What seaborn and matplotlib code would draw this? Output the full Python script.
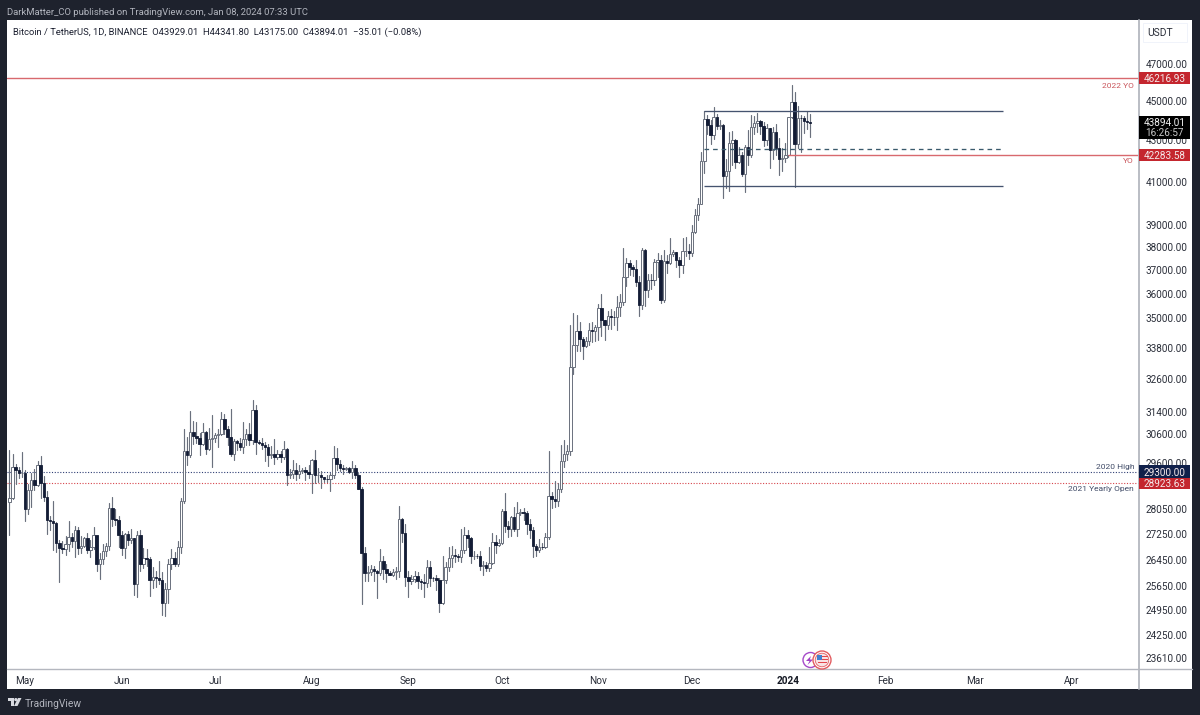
import matplotlib
matplotlib.use("Agg")
import matplotlib.pyplot as plt
from matplotlib.patches import Rectangle, Circle, Polygon
import numpy as np
import pandas as pd
import seaborn as sns

# Daily BTC/USDT candles, 2023-04-26 to 2024-01-08
first_open = 28300.0
closes = [
    28422, 29473, 29340, 29248, 29268,
    28068, 28669, 29026, 28838, 29534, 28905, 28454, 27694, 27658, 27621, 26987, 26804, 26784, 26930, 27171, 27036, 27398, 26832, 26890, 27129, 26753, 26851, 27225, 26334, 26476, 26719, 26868, 28085, 27745, 27702, 27219,
    26819, 27249, 27069, 27116, 25728, 27230, 26339, 26498, 26477, 25841, 25924, 25902, 25841, 25160, 25575, 26327, 26511, 26336, 26844, 28307, 29993, 29884, 30688, 30527, 30462, 30267, 30692, 30077, 30445, 30472,
    30585, 30617, 31156, 30767, 30503, 29895, 30344, 30284, 30160, 30411, 30620, 30380, 31454, 30312, 30289, 30231, 30138, 29859, 29909, 29800, 29901, 29794, 30083, 29176, 29228, 29353, 29212, 29314, 29357, 29278, 29230,
    29705, 29186, 29193, 29113, 29042, 29041, 29180, 29765, 29561, 29429, 29397, 29415, 29283, 29408, 29170, 28701, 26664, 26049, 26096, 26189, 26126, 26056, 26432, 26163, 26047, 26004, 26089, 26106, 27727, 27297, 25931,
    25800, 25869, 25969, 25812, 25779, 25753, 26240, 25905, 25895, 25832, 25162, 25840, 26222, 26522, 26600, 26568, 26527, 26760, 27211, 27132, 26568, 26580, 26579, 26256, 26298, 26217, 26352, 27021, 26911, 26967,
    27983, 27505, 27429, 27799, 27410, 27931, 27970, 27936, 27584, 27391, 26875, 26756, 26862, 26852, 27154, 28500, 28395, 28320, 28713, 29669, 29909, 29992, 33069, 33922, 34496, 34151, 33892, 34081, 34525, 34474, 34639,
    35421, 34938, 34732, 35082, 35049, 35037, 35443, 35655, 36693, 37313, 37138, 37054, 36502, 35537, 37880, 36154, 36596, 36568, 37359, 37448, 35741, 37408, 37294, 37713, 37780, 37447, 37242, 37818, 37854, 37723,
    38682, 39450, 39972, 41991, 44073, 43762, 43273, 44170, 43713, 43789, 41253, 41492, 42869, 43022, 41941, 42278, 41374, 42657, 42272, 43668, 43861, 43997, 43739, 43016, 43613, 42520, 43442, 42627, 42099, 42142, 42283.58,
    44179, 44946, 42845, 44151, 44145, 43968, 43929.01, 43894.01,
]
highs = [
    30036, 29890, 29560, 29450, 29960,
    29340, 28880, 29266, 29379, 29670, 29849, 29138, 28663, 27820, 28322, 27650, 27055, 27030, 27200, 27670, 27299, 27500, 27485, 27192, 27155, 27280, 27060, 27495, 27209, 26655, 26934, 26990, 28261, 28447, 28044, 27832,
    27350, 27303, 27350, 27407, 27131, 27350, 27391, 26810, 26783, 26533, 26220, 26100, 26433, 26077, 25750, 26476, 26774, 26700, 27046, 28402, 30800, 30500, 31431, 31060, 31046, 30650, 31000, 30703, 30830, 31282,
    30650, 30800, 31380, 31330, 30877, 31500, 30445, 30390, 30450, 31045, 30800, 30980, 31818, 31640, 30390, 30450, 30340, 30246, 30189, 30417, 30050, 29994, 30350, 30110, 29380, 29690, 29585, 29530, 29415, 29450, 29530,
    29740, 30047, 29433, 29310, 29118, 29180, 29245, 30190, 30100, 29700, 29540, 29470, 29460, 29650, 29530, 29250, 28780, 26835, 26260, 26300, 26260, 26135, 26800, 26560, 26315, 26120, 26180, 26250, 28142, 27760, 27575,
    26125, 25980, 26120, 26080, 25860, 26030, 26450, 26430, 25940, 25980, 25900, 26560, 26400, 26840, 26890, 26777, 26620, 27400, 27490, 27380, 27160, 26720, 26640, 26720, 26430, 26390, 26840, 27300, 27230, 27090,
    28065, 28580, 27670, 27840, 28120, 28290, 28050, 28100, 27990, 27740, 27480, 26950, 27100, 26970, 27290, 30000, 28610, 28990, 28900, 30200, 30380, 30230, 34741, 35198, 35133, 34832, 34245, 34238, 34810, 34856, 34720,
    35575, 35984, 34942, 35275, 35380, 35290, 35920, 35980, 37972, 37530, 37430, 37228, 37445, 36760, 37980, 37929, 36853, 36845, 37500, 37750, 37650, 37856, 37653, 38415, 37890, 37800, 37588, 38390, 38450, 38145,
    38999, 39699, 40217, 42420, 44488, 44300, 44049, 44700, 44364, 44040, 43808, 42104, 43436, 43475, 43085, 42665, 42419, 42755, 43500, 44283, 44240, 44398, 44015, 43945, 43808, 43639, 43684, 43804, 43111, 42613, 42899,
    44187, 45879, 45500, 44729, 44300, 44214, 44500, 44341.80,
]
lows = [
    27235, 28380, 28880, 29080, 29130,
    27660, 27880, 28120, 28670, 28800, 28430, 28330, 27266, 27375, 26750, 26705, 25780, 26666, 26615, 26720, 26863, 26555, 26636, 26652, 26849, 26666, 26535, 26800, 26111, 25871, 26333, 26560, 26766, 27524, 27555, 26841,
    26605, 26505, 26920, 26968, 25388, 25351, 26105, 26210, 26269, 25358, 25608, 25633, 25713, 24820, 24790, 25170, 26181, 26256, 26256, 26650, 28260, 29525, 29800, 30250, 30270, 29880, 30216, 29900, 30036, 29440,
    30320, 30155, 30570, 30620, 30200, 29850, 29700, 30050, 30050, 29950, 30200, 30200, 30250, 29900, 30250, 30080, 29660, 29500, 29765, 29565, 29720, 29630, 29720, 28861, 29075, 29100, 29000, 29100, 29256, 29033, 29100,
    28585, 28920, 28960, 28750, 28940, 28960, 28650, 29100, 29350, 29320, 29230, 29355, 29250, 29070, 29100, 28700, 25130, 25800, 25812, 26000, 25812, 25300, 25990, 25864, 25777, 25985, 25970, 25860, 25920, 27000, 25655,
    25333, 25730, 25770, 25600, 25570, 25350, 25620, 25650, 25800, 25550, 24900, 25130, 25760, 26127, 26220, 26380, 26410, 26385, 26675, 26840, 26360, 26465, 26500, 26130, 25990, 26110, 26110, 26320, 26660, 26890,
    26955, 27320, 27160, 27200, 27340, 27180, 27870, 27700, 27260, 27130, 26530, 26560, 26690, 26800, 26810, 27110, 28080, 28120, 28170, 28600, 29460, 29690, 29883, 32816, 33690, 33700, 33390, 33850, 33930, 34050, 34076,
    34116, 34300, 34123, 34580, 34560, 34740, 34525, 35100, 35525, 36333, 36780, 36750, 36340, 35100, 35360, 35500, 35880, 36210, 36390, 36700, 35632, 35670, 36870, 37250, 37600, 37150, 36707, 36880, 37600, 37500,
    37615, 38650, 39200, 39972, 41414, 43335, 42821, 43080, 43584, 43562, 40222, 40680, 40555, 41800, 41666, 41888, 41250, 40500, 41800, 42180, 43300, 43400, 43300, 42750, 42765, 41637, 42100, 42300, 41300, 41520, 41965,
    42180, 44148, 40750, 42630, 42450, 43397, 43566, 43175.00,
]

# Price scale and time scale labels
price_ticks = [47000, 45000, 43000, 41000, 39000, 38000, 37000, 36000, 35000, 33800, 32600,
               31400, 30600, 29600, 28050, 27250, 26450, 25650, 24950, 24250, 23610]
month_ticks = ["2023-05-01", "2023-06-01", "2023-07-01", "2023-08-01", "2023-09-01", "2023-10-01",
               "2023-11-01", "2023-12-01", "2024-01-01", "2024-02-01", "2024-03-01", "2024-04-01"]
month_labels = ["May", "Jun", "Jul", "Aug", "Sep", "Oct", "Nov", "Dec", "2024", "Feb", "Mar", "Apr"]

# Horizontal levels
level_2022_open = 46216.93
level_2023_open = 42283.58
level_2020_high = 29300.00
level_2021_open = 28923.63
range_high, range_mid, range_low = 44470, 42600, 40770

NAVY = "#131c35"
WICK = "#6a707d"
RED = "#c4262e"
RED_LINE = "#d8696e"
DARK_BG = "#1e222d"
FONT = "Roboto"

sns.set_theme(style="white")
plt.rcParams["font.family"] = [FONT, "DejaVu Sans"]

dates = pd.date_range("2023-04-26", periods=len(closes), freq="D")
opens = [first_open] + closes[:-1]  # round-the-clock market: each day opens at the prior close
frame = pd.DataFrame({"date": dates, "open": opens, "high": highs, "low": lows, "close": closes})
wicks = frame.melt(id_vars="date", value_vars=["high", "low"], value_name="price")

fig = plt.figure(figsize=(12, 7.15), dpi=100, facecolor=DARK_BG)

# Page layer measured in pixels, behind and in front of the price pane
page = fig.add_axes([0, 0, 1, 1], zorder=0)
page.set_xlim(0, 1200)
page.set_ylim(715, 0)
page.axis("off")
page.add_patch(Rectangle((7, 20), 1185, 669, fc="white", ec="none"))

ax = fig.add_axes([7 / 1200, 1 - 669 / 715, 1132 / 1200, 649 / 715], zorder=1)
ax.patch.set_alpha(0)
ax.set_yscale("log")
ax.set_xlim(pd.Timestamp("2023-04-25 05:00").to_pydatetime(), pd.Timestamp("2024-04-22 12:00").to_pydatetime())
ax.set_ylim(23311, 49440)

sns.lineplot(data=wicks, x="date", y="price", units="date", estimator=None, sort=False,
             color=WICK, lw=0.85, legend=False, ax=ax, zorder=2)

up = frame[frame["close"] >= frame["open"]]
down = frame[frame["close"] < frame["open"]]
ax.bar(up["date"], (up["close"] - up["open"]).clip(lower=6), bottom=up["open"], width=0.78,
       facecolor="white", edgecolor="#6a707d", linewidth=0.7, zorder=3)
ax.bar(down["date"], (down["open"] - down["close"]).clip(lower=6), bottom=down["close"], width=0.78,
       facecolor=NAVY, edgecolor=NAVY, linewidth=0.6, zorder=3)

ax.yaxis.tick_right()
ax.set_yticks(price_ticks)
ax.set_yticklabels([f"{p:.2f}" for p in price_ticks])
ax.yaxis.set_minor_locator(matplotlib.ticker.NullLocator())
ax.tick_params(axis="y", length=0, pad=4.5, labelsize=7.2, labelcolor="#2a2e39")
ax.set_xticks(pd.to_datetime(month_ticks).to_pydatetime())
ax.set_xticklabels(month_labels)
ax.tick_params(axis="x", length=0, pad=4.8, labelsize=7.2, labelcolor="#2a2e39")
ax.get_xticklabels()[8].set_fontweight("bold")
ax.get_xticklabels()[8].set_color("#131722")
ax.set_xlabel("")
ax.set_ylabel("")
for spine in ax.spines.values():
    spine.set_visible(False)

# Key levels
ax.axhline(level_2022_open, color=RED_LINE, lw=1.0, zorder=2)
ax.hlines(level_2023_open, pd.Timestamp("2024-01-01"), ax.get_xlim()[1], color=RED_LINE, lw=1.0, zorder=4)
ax.axhline(level_2020_high, color="#2f3f74", lw=0.8, ls=(0, (1, 1.5)), zorder=1)
ax.axhline(level_2021_open, color="#d6454c", lw=0.8, ls=(0, (1, 1.5)), zorder=1)

# Consolidation range
range_start, range_end = pd.Timestamp("2023-12-05"), pd.Timestamp("2024-03-10")
ax.hlines([range_high, range_low], range_start, range_end, color="#45536f", lw=0.95, zorder=4)
ax.hlines(range_mid, range_start, range_end, color="#3a5a6c", lw=0.95, ls=(0, (3.5, 3)), zorder=4)

# Front layer for the price tags, frame text and event badges
top = fig.add_axes([0, 0, 1, 1], zorder=2)
top.set_xlim(0, 1200)
top.set_ylim(715, 0)
top.axis("off")
top.patch.set_alpha(0)


def price_y(price):
    display = ax.transData.transform((ax.get_xlim()[0], price))
    return top.transData.inverted().transform(display)[1]


top.plot([1139, 1139], [20, 689], color="#b4b7bf", lw=1.3, zorder=1)
top.plot([7, 1192], [669, 669], color="#b4b7bf", lw=1.0, zorder=1)


def price_tag(price, color, text=None):
    y = price_y(price)
    top.add_patch(Rectangle((1139, y - 6.2), 51, 12.4, fc=color, ec="none", zorder=3))
    top.text(1164.5, y, text or f"{price:.2f}", color="#f5e9ea", fontsize=7.2, ha="center",
             va="center_baseline", zorder=4)


price_tag(level_2022_open, RED)
price_tag(level_2023_open, RED)
price_tag(level_2021_open, RED)
price_tag(level_2020_high, "#10204a")

close_y = price_y(closes[-1])
top.add_patch(Rectangle((1139, close_y - 7), 51, 23, fc="black", ec="none", zorder=3))
top.text(1164.5, close_y - 1, f"{closes[-1]:.2f}", color="#f2f2f2", fontsize=7.2, ha="center",
         va="center_baseline", zorder=4)
top.text(1164.5, close_y + 9.5, "16:26:57", color="#c9c9c9", fontsize=7.2, ha="center",
         va="center_baseline", zorder=4)


def level_label(price, text, color, offset):
    top.text(1134, price_y(price) + offset, text, color=color, fontsize=6.0, ha="right",
             va="center_baseline", zorder=4)


level_label(level_2022_open, "2022 YO", "#c9555b", 7)
level_label(level_2023_open, "YO", "#c9555b", 6)
level_label(level_2020_high, "2020 High", "#3f4a66", -5.5)
level_label(level_2021_open, "2021 Yearly Open", "#3f4a66", 6)

top.add_patch(Rectangle((1143, 23), 44, 19, fc="white", ec="#f0f3fa", lw=0.7, zorder=2))
top.text(1160, 32, "USDT", color="#2a2e39", fontsize=7.4, ha="center", va="center_baseline", zorder=4)

top.text(7, 11.5, "DarkMatter_CO published on TradingView.com, Jan 08, 2024 07:33 UTC", color="#b2b5be",
         fontsize=6.8, ha="left", va="center_baseline")
top.text(13, 31, "Bitcoin / TetherUS, 1D, BINANCE  O43929.01  H44341.80  L43175.00  C43894.01  \u221235.01 (\u22120.08%)",
         color="#1c2030", fontsize=6.75, ha="left", va="center_baseline")
top.text(24.5, 703, "TradingView", color="#b2b5be", fontsize=7.4, ha="left", va="center_baseline")

# TradingView wordmark glyph
top.add_patch(Polygon([(7.5, 698), (14, 698), (14, 706), (10.5, 706), (10.5, 701), (7.5, 701)],
                      fc="#d8dae0", ec="none"))
top.add_patch(Circle((15.8, 699.6), 1.6, fc="#d8dae0", ec="none"))
top.add_patch(Polygon([(18, 698), (21.5, 698), (17.5, 706), (14, 706)], fc="#d8dae0", ec="none"))

# Event badges on the time scale
top.add_patch(Circle((810.5, 660), 7.5, fc="white", ec="#a64ac9", lw=1.0, zorder=3))
top.add_patch(Polygon([(811, 656), (806, 661), (809.5, 661), (807.5, 665), (813, 659.5), (809.8, 659.5)],
                      fc="#a23fc4", ec="none", zorder=3))
top.add_patch(Circle((822, 660), 9, fc="white", ec="#e25b5f", lw=1.0, zorder=4))
top.add_patch(Circle((822, 660), 6.8, fc="#f9e2e3", ec="#e25b5f", lw=0.6, zorder=4))
top.add_patch(Rectangle((816.5, 655), 5.5, 5, fc="#3f7fd0", ec="none", zorder=5))
top.add_patch(Rectangle((822, 656), 5.5, 1.4, fc="#e2474c", ec="none", zorder=5))
top.add_patch(Rectangle((822, 659), 5.5, 1.4, fc="#e2474c", ec="none", zorder=5))
top.add_patch(Rectangle((817.5, 662), 9, 1.4, fc="#e2474c", ec="none", zorder=5))

fig.savefig("out.png", dpi=100, facecolor=fig.get_facecolor())
